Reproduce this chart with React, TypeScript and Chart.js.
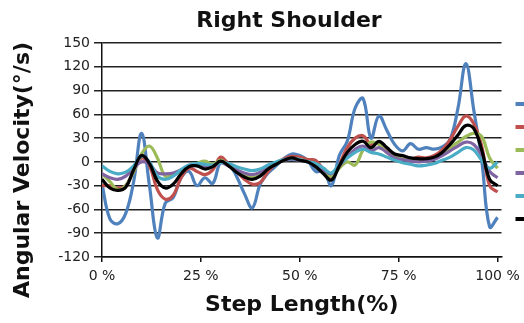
import React, { useEffect, useRef } from "react";
import { Chart, registerables } from "chart.js";

Chart.register(...registerables);

// Step length (%) sample positions
const stepPct = [
  0, 2, 4, 6, 8, 10, 12, 14, 16, 18, 20, 22, 24, 26, 28, 30, 32, 34, 36, 38, 40,
  42, 44, 46, 48, 50, 52, 54, 56, 58, 60, 62, 64, 66, 68, 70, 72, 74, 76, 78, 80,
  82, 84, 86, 88, 90, 92, 94, 96, 98, 100,
];

// Angular velocity (°/s) per series
const trial1 = [
  -28, -72, -78, -65, -25, 36, -30, -96, -52, -45, -20, -12, -30, -20, -27, 0, -2, -18, -40, -58, -28,
  -14, -5, 4, 10, 8, 2, -12, -12, -30, 8, 26, 68, 80, 30, 58, 40, 22, 14, 23, 16,
  18, 16, 19, 28, 68, 124, 65, 2, -82, -70,
];
const trial2 = [
  -30, -30, -33, -30, -12, 5, -5, -35, -47, -42, -20, -8, -12, -16, -10, 6, -3, -12, -22, -28, -26,
  -12, -2, 4, 7, 6, 3, 2, -10, -20, -3, 18, 30, 33, 22, 25, 15, 8, 6, 4, 6,
  5, 8, 15, 28, 45, 58, 48, 20, -30, -38,
];
const trial3 = [
  -15, -25, -35, -30, -12, 10, 20, 5, -18, -16, -10, -5, -2, 1, -3, 2, -4, -10, -15, -20, -16,
  -8, -2, 2, 4, 3, 0, -3, -12, -18, -8, 0, -4, 15, 25, 22, 12, 6, 4, 2, 2,
  3, 5, 10, 18, 25, 32, 36, 32, 5, -8,
];
const trial4 = [
  -15, -20, -22, -18, -8, 0, -3, -14, -15, -14, -10, -5, -4, -6, -5, -1, -5, -10, -14, -16, -13,
  -7, -2, 2, 3, 2, 0, -4, -10, -15, -5, 6, 16, 20, 14, 18, 12, 5, 3, 1, 0,
  1, 3, 8, 14, 20, 25, 22, 8, -12, -20,
];
const trial5 = [
  -5, -12, -15, -13, -5, 7, 0, -18, -22, -18, -10, -4, -2, -3, -4, -1, -2, -6, -9, -11, -9,
  -4, 0, 3, 4, 3, 0, -2, -8, -14, -3, 5, 12, 16, 12, 10, 6, 2, -1, -3, -5,
  -4, -2, 2, 6, 12, 18, 15, 2, -8, 0,
];
const meanSeries = [
  -22, -33, -36, -32, -10, 8, -2, -24, -33, -28, -15, -6, -5, -9, -6, 1, -5, -13, -19, -22, -18,
  -9, -3, 2, 5, 2, 0, -6, -15, -23, -5, 12, 22, 26, 18, 26, 18, 10, 8, 5, 4,
  4, 6, 12, 22, 34, 46, 42, 15, -22, -30,
];

const seriesValues = [trial1, trial2, trial3, trial4, trial5, meanSeries];
const seriesNames = ["Subject 1", "Subject 2", "Subject 3", "Subject 4", "Subject 5", "Average"];
const seriesColors = ["#4F81BD", "#C0504D", "#9BBB59", "#8064A2", "#4BACC6", "#000000"];

const xTickValues = [0, 25, 50, 75, 100];
const yMin = -120;
const yMax = 150;
const yStep = 30;

const chartTitle = "Right Shoulder";
const xAxisTitle = "Step Length(%)";
const yAxisTitle = "Angular Velocity(°/s)";

const FONT = "'DejaVu Sans', Verdana, sans-serif";

// Draws the rotated y-axis title in the reserved left margin
const yTitlePlugin = {
  id: "yAxisTitle",
  afterDraw(chart: any) {
    const ctx = chart.ctx;
    ctx.save();
    ctx.translate(23, 170);
    ctx.rotate(-Math.PI / 2);
    ctx.font = `bold 22px ${FONT}`;
    ctx.fillStyle = "#111";
    ctx.textAlign = "center";
    ctx.textBaseline = "middle";
    ctx.fillText(yAxisTitle, 0, 0);
    ctx.restore();
  },
};

export default function App() {
  const ref = useRef<HTMLCanvasElement>(null);

  useEffect(() => {
    const canvas = ref.current;
    if (!canvas) return;
    const chart = new Chart(canvas, {
      type: "line",
      data: {
        datasets: seriesValues.map((vals, i) => ({
          label: seriesNames[i],
          data: vals.map((v, j) => ({ x: stepPct[j], y: v })),
          borderColor: seriesColors[i],
          backgroundColor: seriesColors[i],
          borderWidth: 3.2,
          pointRadius: 0,
          tension: 0.4,
          fill: false,
          order: seriesValues.length - i,
        })),
      },
      plugins: [yTitlePlugin],
      options: {
        animation: false,
        responsive: false,
        layout: { padding: { left: 7, top: 0, right: 0, bottom: 0 } },
        plugins: {
          title: {
            display: true,
            text: chartTitle,
            color: "#111",
            font: { family: FONT, size: 22, weight: "bold" },
            padding: { top: 7.8, bottom: 8.8 },
          },
          legend: {
            position: "right",
            reverse: true,
            maxWidth: 69.5,
            labels: {
              boxWidth: 10,
              boxHeight: 4,
              padding: 14,
              color: "#111",
              font: { family: FONT, size: 9 },
              generateLabels: (c: any) =>
                (Chart.defaults.plugins.legend.labels as any)
                  .generateLabels(c)
                  .map((it: any) => ({ ...it, fillStyle: it.strokeStyle, lineWidth: 0 })),
            },
          },
          tooltip: { enabled: false },
        },
        scales: {
          x: {
            type: "linear",
            min: 0,
            max: 101,
            afterBuildTicks: (s: any) => {
              s.ticks = xTickValues.map((v) => ({ value: v }));
            },
            afterFit: (s: any) => {
              s.height = 66;
            },
            ticks: {
              autoSkip: false,
              maxRotation: 0,
              padding: 6,
              color: "#222",
              font: { family: FONT, size: 14 },
              callback: (v: any) => v + " %",
            },
            grid: {
              display: true,
              drawOnChartArea: false,
              drawTicks: true,
              tickLength: 5,
              color: "#111",
              lineWidth: 1.5,
            },
            border: { display: true, color: "#111", width: 1.5 },
            title: {
              display: true,
              text: xAxisTitle,
              color: "#111",
              font: { family: FONT, size: 22, weight: "bold" },
              padding: { top: 4, bottom: 5 },
            },
          },
          y: {
            min: yMin,
            max: yMax,
            afterFit: (s: any) => {
              s.width = 95;
            },
            ticks: {
              stepSize: yStep,
              padding: 4,
              color: "#222",
              font: { family: FONT, size: 14 },
            },
            grid: {
              color: "#222",
              lineWidth: 1.5,
              drawTicks: true,
              tickLength: 8,
            },
            border: { display: true, color: "#111", width: 1.5 },
          },
        },
      },
    });
    return () => chart.destroy();
  }, []);

  return (
    <div
      style={{
        position: "absolute",
        left: 0,
        top: 0,
        width: 524,
        height: 323,
        overflow: "hidden",
        background: "#fff",
      }}
    >
      <canvas ref={ref} width={571} height={323} style={{ display: "block", width: 571, height: 323 }} />
    </div>
  );
}
